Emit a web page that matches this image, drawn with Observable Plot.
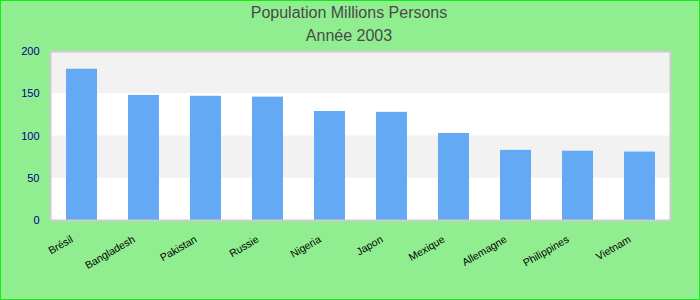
<!DOCTYPE html>
<html>
<head>
<meta charset="utf-8">
<script src="https://cdn.jsdelivr.net/npm/d3@7"></script>
<script src="https://cdn.jsdelivr.net/npm/@observablehq/plot@0.6"></script>
<style>
  html, body { margin: 0; padding: 0; }
  #wrap {
    position: relative; width: 700px; height: 300px; overflow: hidden;
    background: #90ee90; box-sizing: border-box;
    font-family: "Liberation Sans", Arial, sans-serif;
  }
  #wrap::after {
    content: ""; position: absolute; left: 0; top: 0; right: 0; bottom: 0;
    border: 1px solid #11ee11; pointer-events: none;
  }
  .title { position: absolute; left: 0; width: 698px; text-align: center; color: #4a4a4a; font-size: 16px; line-height: 16px; }
  #t1 { top: 5px; }
  #t2 { top: 28px; }
  #chart { position: absolute; left: 0; top: 0; }
</style>
</head>
<body>
<div id="wrap">
  <div id="chart"></div>
  <div class="title" id="t1">Population Millions Persons</div>
  <div class="title" id="t2">Année 2003</div>
</div>
<script>
const countries = ["Brésil", "Bangladesh", "Pakistan", "Russie", "Nigeria", "Japon", "Mexique", "Allemagne", "Philippines", "Vietnam"];
const population = [179, 148, 147, 146, 129, 128, 103, 83, 82, 81];
const yTicks = [0, 50, 100, 150, 200];
const bandStep = 50;

const data = countries.map((c, i) => ({country: c, value: population[i]}));
const bands = yTicks.slice(0, -1).map((t, i) => ({y1: t, y2: t + bandStep, shaded: i % 2 === 1})).filter(d => d.shaded);

const chart = Plot.plot({
  width: 700,
  height: 300,
  marginTop: 51,
  marginBottom: 80,
  marginLeft: 50,
  marginRight: 30,
  style: { background: "transparent", fontFamily: "'Liberation Sans', Arial, sans-serif", overflow: "visible" },
  x: { domain: countries, paddingInner: 0.5, paddingOuter: 0.25, label: null },
  y: { domain: [0, 200], ticks: yTicks, label: null },
  marks: [
    Plot.frame({ fill: "white" }),
    Plot.rectY(bands, { y1: "y1", y2: "y2", fill: "#f2f2f2" }),
    Plot.barY(data, { x: "country", y: "value", fill: "#63a9f4" }),
    Plot.frame({ stroke: "#cccccc", strokeWidth: 2 }),
    Plot.axisY({ ticks: yTicks, tickSize: 0, tickPadding: 11, fontSize: 11, color: "#00008b", label: null }),
    Plot.axisX({ tickSize: 0, tickPadding: 18, tickRotate: -30, fontSize: 10.5, color: "#000", dx: -10, label: null })
  ]
});
document.getElementById("chart").appendChild(chart);
</script>
</body>
</html>
